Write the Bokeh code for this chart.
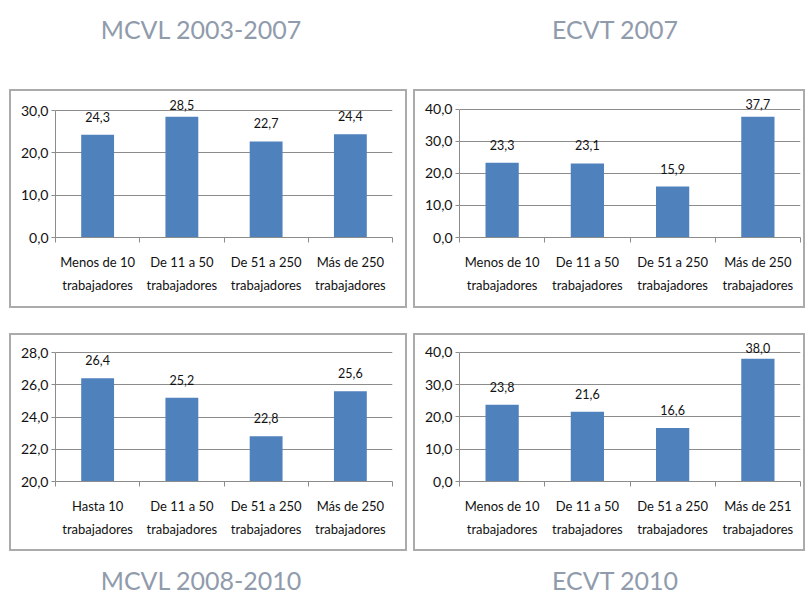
from bokeh.plotting import figure
from bokeh.models import Range1d, FixedTicker, Div, Spacer, ColumnDataSource, LabelSet
from bokeh.layouts import column, row
from bokeh.embed import file_html
from bokeh.resources import INLINE
from bokeh.core.properties import value

# ---------------- data ----------------
title_tl = "MCVL 2003-2007"
title_tr = "ECVT 2007"
title_bl = "MCVL 2008-2010"
title_br = "ECVT 2010"

cats_tl = ["Menos de 10\ntrabajadores", "De 11 a 50\ntrabajadores",
           "De 51 a 250\ntrabajadores", "Más de 250\ntrabajadores"]
vals_tl = [24.3, 28.5, 22.7, 24.4]
lbls_tl = ["24,3", "28,5", "22,7", "24,4"]
ticks_tl = [0, 10, 20, 30]
tlbls_tl = ["0,0", "10,0", "20,0", "30,0"]

cats_tr = ["Menos de 10\ntrabajadores", "De 11 a 50\ntrabajadores",
           "De 51 a 250\ntrabajadores", "Más de 250\ntrabajadores"]
vals_tr = [23.3, 23.1, 15.9, 37.7]
lbls_tr = ["23,3", "23,1", "15,9", "37,7"]
ticks_tr = [0, 10, 20, 30, 40]
tlbls_tr = ["0,0", "10,0", "20,0", "30,0", "40,0"]

cats_bl = ["Hasta 10\ntrabajadores", "De 11 a 50\ntrabajadores",
           "De 51 a 250\ntrabajadores", "Más de 250\ntrabajadores"]
vals_bl = [26.4, 25.2, 22.8, 25.6]
lbls_bl = ["26,4", "25,2", "22,8", "25,6"]
ticks_bl = [20, 22, 24, 26, 28]
tlbls_bl = ["20,0", "22,0", "24,0", "26,0", "28,0"]

cats_br = ["Menos de 10\ntrabajadores", "De 11 a 50\ntrabajadores",
           "De 51 a 250\ntrabajadores", "Más de 251\ntrabajadores"]
vals_br = [23.8, 21.6, 16.6, 38.0]
lbls_br = ["23,8", "21,6", "16,6", "38,0"]
ticks_br = [0, 10, 20, 30, 40]
tlbls_br = ["0,0", "10,0", "20,0", "30,0", "40,0"]

# ---------------- style ----------------
FONT = "Lato"
BAR = "#4F81BD"
GRID = "#8C8C8C"
BOX = "2px solid #ABABAB"
TITLE_COLOR = "#909BAC"
TOP_PAD = 3        # px of canvas above the frame (room for value labels)
LABEL_OFF = 18     # preferred px between bar top and value label centre
LABEL_MIN_TOP = 13 # minimal px between canvas top and label centre


def panel(cats, vals, lbls, ticks, tlbls, width, height, bl, br, bt, bb):
    n = len(cats)
    pos = [i + 0.5 for i in range(n)]          # category slot centres
    lo, hi = ticks[0], ticks[-1]
    # extend the range above the top tick so value labels are not clipped,
    # keeping the top tick at 'bt' px below the canvas top
    span_px = height - bb - bt
    frame_px = height - bb - TOP_PAD
    y_end = lo + (hi - lo) * frame_px / span_px
    p = figure(x_range=Range1d(0, n),
               y_range=Range1d(lo, y_end),
               width=width, height=height, output_backend="svg",
               toolbar_location=None,
               min_border_left=bl, min_border_right=br,
               min_border_top=TOP_PAD, min_border_bottom=bb,
               styles={"border": BOX})
    p.outline_line_color = None
    p.background_fill_color = "white"
    p.border_fill_color = "white"

    yt = FixedTicker(ticks=ticks)
    p.yaxis.ticker = yt
    p.yaxis.bounds = (lo, hi)
    p.yaxis.major_label_overrides = dict(zip(ticks, tlbls))
    p.yaxis.major_label_text_font = FONT
    p.yaxis.major_label_text_font_size = "14px"
    p.yaxis.major_label_text_color = "#111111"
    p.yaxis.axis_line_color = GRID
    p.yaxis.major_tick_line_color = GRID
    p.yaxis.major_tick_out = 4
    p.yaxis.major_tick_in = 0
    p.yaxis.minor_tick_line_color = None
    p.yaxis.major_label_standoff = 3
    p.ygrid.ticker = yt
    p.ygrid.grid_line_color = GRID
    p.xgrid.grid_line_color = None

    xt = FixedTicker(ticks=pos, minor_ticks=list(range(n + 1)))
    p.xaxis.ticker = xt
    p.xaxis.major_label_overrides = dict(zip(pos, cats))
    p.xaxis.major_tick_line_color = None
    p.xaxis.major_tick_out = 0
    p.xaxis.major_tick_in = 0
    p.xaxis.minor_tick_line_color = GRID
    p.xaxis.minor_tick_out = 5
    p.xaxis.minor_tick_in = 0
    p.xaxis.axis_line_color = GRID
    p.xaxis.major_label_standoff = 11
    p.xaxis.major_label_text_font = FONT
    p.xaxis.major_label_text_font_size = "13px"
    p.xaxis.major_label_text_line_height = 1.45
    p.xaxis.major_label_text_color = "#111111"

    # value-label offsets: keep labels inside the box when a bar is near the top
    offs = []
    for v in vals:
        bar_top_px = bt + (hi - v) / (hi - lo) * span_px
        offs.append(min(LABEL_OFF, bar_top_px - LABEL_MIN_TOP))

    src = ColumnDataSource(dict(x=pos, y=vals, t=lbls, off=offs))
    p.vbar(x="x", top="y", bottom=lo, width=0.39, source=src,
           fill_color=BAR, line_color=None)
    p.add_layout(LabelSet(x="x", y="y", text="t", source=src, text_align="center",
                          text_baseline="middle", y_offset="off",
                          text_font=value(FONT), text_font_size=value("12.5px"),
                          text_color=value("#111111")))
    return p


def title_div(txt, width, height, top, left, inner_w):
    return Div(text=f'<div style="margin-top:{top}px;margin-left:{left}px;text-align:center;'
                    f'width:{inner_w}px;line-height:20px">{txt}</div>',
               width=width, height=height, margin=0,
               styles={"font-family": FONT, "font-size": "25px", "color": TITLE_COLOR})


LEFT, GAP = 9, 6
OWL, OWR = 398, 392                 # outer box widths (border included)
HT, HB = 219, 218                   # outer box heights

p_tl = panel(cats_tl, vals_tl, lbls_tl, ticks_tl, tlbls_tl, OWL, HT, 44, 17, 19, 73)
p_tr = panel(cats_tr, vals_tr, lbls_tr, ticks_tr, tlbls_tr, OWR, HT, 44, 7, 18, 71)
p_bl = panel(cats_bl, vals_bl, lbls_bl, ticks_bl, tlbls_bl, OWL, HB, 44, 17, 17, 72)
p_br = panel(cats_br, vals_br, lbls_br, ticks_br, tlbls_br, OWR, HB, 44, 7, 17, 71)

WT1 = 402
WT2 = LEFT + OWL + GAP + OWR - WT1
top_titles = row(title_div(title_tl, WT1, 89, 19, 0, WT1),
                 title_div(title_tr, WT2, 89, 19, 22, 382))
bot_titles = row(title_div(title_bl, WT1, 44, 19, 0, WT1),
                 title_div(title_br, WT2, 44, 19, 22, 382))

layout = column(top_titles,
                row(Spacer(width=LEFT), p_tl, Spacer(width=GAP), p_tr),
                Spacer(height=25),
                row(Spacer(width=LEFT), p_bl, Spacer(width=GAP), p_br),
                bot_titles)

open("out.html", "w").write(file_html(layout, INLINE))
